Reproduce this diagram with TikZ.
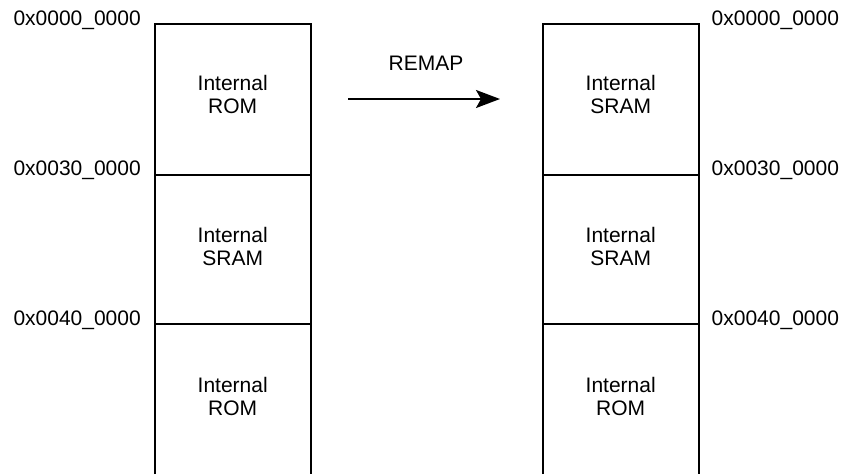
\documentclass[tikz,border=0pt]{standalone}
\usepackage{fontspec}
\setmainfont{Liberation Sans}
\usetikzlibrary{arrows.meta}
\begin{document}
\begin{tikzpicture}[x=1pt,y=-1pt]
            \tikzstyle{every node}+=[inner sep=0pt,font=\fontsize{21}{23}\selectfont]
            \tikzstyle{wall}=[black,line width=2pt]
            \tikzstyle{addr}=[anchor=base]
            \tikzstyle{region}=[align=center]
            \useasboundingbox (0,0) rectangle (845,474);
            % left memory map
            \coordinate (l0) at (155,24);
            \coordinate (r0) at (311,24);
            \coordinate (l1) at (155,175);
            \coordinate (r1) at (311,175);
            \coordinate (l2) at (155,324);
            \coordinate (r2) at (311,324);
            \coordinate (l3) at (155,474);
            \coordinate (r3) at (311,474);
            \draw [wall] (l3) -- (l0) -- (r0) -- (r3);
            \draw [wall] (l1) -- (r1);
            \draw [wall] (l2) -- (r2);
            \node [region] (lrom) at (232.7,94.5) {Internal\\ROM};
            \node [region] (lsram) at (232.7,246) {Internal\\SRAM};
            \node [region] (lrom2) at (232.7,396) {Internal\\ROM};
            \node [addr,anchor=base east] (la0) at (141,25) {0x0000\_0000};
            \node [addr,anchor=base east] (la1) at (141,175) {0x0030\_0000};
            \node [addr,anchor=base east] (la2) at (141,325) {0x0040\_0000};
            % right memory map
            \coordinate (m0) at (543,24);
            \coordinate (n0) at (699,24);
            \coordinate (m1) at (543,175);
            \coordinate (n1) at (699,175);
            \coordinate (m2) at (543,324);
            \coordinate (n2) at (699,324);
            \coordinate (m3) at (543,474);
            \coordinate (n3) at (699,474);
            \draw [wall] (m3) -- (m0) -- (n0) -- (n3);
            \draw [wall] (m1) -- (n1);
            \draw [wall] (m2) -- (n2);
            \node [region] (rsram) at (620.7,94.5) {Internal\\SRAM};
            \node [region] (rsram2) at (620.7,246) {Internal\\SRAM};
            \node [region] (rrom) at (620.7,396) {Internal\\ROM};
            \node [addr,anchor=base west] (ra0) at (711.5,25) {0x0000\_0000};
            \node [addr,anchor=base west] (ra1) at (711.5,175) {0x0030\_0000};
            \node [addr,anchor=base west] (ra2) at (711.5,325) {0x0040\_0000};
            % remap arrow
            \coordinate (a0) at (348,99);
            \coordinate (a1) at (500,99);
            \draw [black,line width=2pt,-{Stealth[length=24pt,width=18pt,inset=5pt]}] (a0) -- (a1);
            \node [addr] (remap) at (426,70.7) {REMAP};
        \end{tikzpicture}
\end{document}
